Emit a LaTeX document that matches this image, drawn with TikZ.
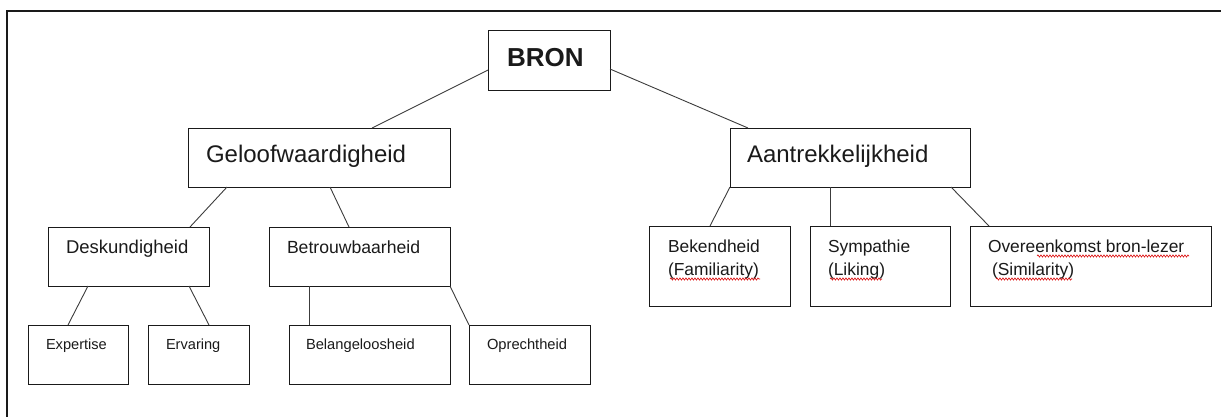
\documentclass[tikz,border=0pt]{standalone}
\usepackage{fontspec}
\setmainfont{Liberation Sans}
\usetikzlibrary{decorations.pathmorphing}
\definecolor{ink}{HTML}{1A1A1A}
\newcommand{\fs}[1]{\fontsize{#1pt}{1.27\dimexpr#1pt\relax}\selectfont}
\tikzset{
  box/.style={draw=ink, line width=0.9pt, rectangle, inner sep=0pt, outer sep=0pt},
  txt/.style={anchor=base west, inner sep=0pt, outer sep=0pt, text=ink, align=left},
  link/.style={draw=ink!85, line width=0.9pt},
  squig/.style={draw=red!85!black, line width=0.6pt, decorate, decoration={snake, amplitude=1.1pt, segment length=3pt}},
  frame/.style={draw=ink, line width=2.6pt}
}
% \bx{name}{x1}{y1}{x2}{y2}
\newcommand{\bx}[5]{\node[box, minimum width={#4-#2}, minimum height={#5-#3}] (#1) at ({(#2+#4)/2},{(#3+#5)/2}) {};}
\begin{document}
\begin{tikzpicture}[x=1pt, y=-1pt]
\useasboundingbox (0,0) rectangle (1221,416);
\draw[frame] (7,420) -- (7,11) -- (1225,11);

% boxes
\bx{bron}{488}{30}{610}{90}
\bx{geloof}{188}{128}{450}{187}
\bx{aantr}{730}{128}{970}{187}
\bx{desk}{48}{227}{209}{286}
\bx{betr}{269}{227}{450}{286}
\bx{exp}{28}{325}{128}{384}
\bx{erv}{148}{325}{249}{384}
\bx{bel}{289}{325}{450}{384}
\bx{opr}{469}{325}{590}{384}
\bx{bek}{649}{226}{790}{306}
\bx{sym}{810}{226}{950}{306}
\bx{ove}{970}{226}{1211}{306}

% texts
\node[txt, font=\fs{26}\bfseries] (tbron) at (507,66) {BRON};
\node[txt, font=\fs{24}] (tgeloof) at (206,162) {Geloofwaardigheid};
\node[txt, font=\fs{24}] (taantr) at (747,162) {Aantrekkelijkheid};
\node[txt, font=\fs{18.5}] (tdesk) at (66,253) {Deskundigheid};
\node[txt, font=\fs{17.6}] (tbetr) at (287,253) {Betrouwbaarheid};
\node[txt, font=\fs{14.6}] (texp) at (46,349) {Expertise};
\node[txt, font=\fs{14.6}] (terv) at (166,349) {Ervaring};
\node[txt, font=\fs{14.7}] (tbel) at (306,349) {Belangeloosheid};
\node[txt, font=\fs{14.7}] (topr) at (487,349) {Oprechtheid};
\node[txt, font=\fs{17.4}] (tbek) at (668,275) {Bekendheid\\(Familiarity)};
\node[txt, font=\fs{17.4}] (tsym) at (828,275) {Sympathie\\(Liking)};
\node[txt, font=\fs{17.4}] (tove) at (988,275) {Overeenkomst bron-lezer\\\hspace{4pt}(Similarity)};

% connectors
\draw[link] ([yshift=-10pt]bron.west) -- ([xshift=184pt]geloof.north west);
\draw[link] ([yshift=-9pt]bron.east) -- ([xshift=18pt]aantr.north west);
\draw[link] ([xshift=39pt]geloof.south west) -- ([xshift=142pt]desk.north west);
\draw[link] ([xshift=142pt]geloof.south west) -- ([xshift=80pt]betr.north west);
\draw[link] ([xshift=40pt]desk.south west) -- ([xshift=40pt]exp.north west);
\draw[link] ([xshift=141pt]desk.south west) -- ([xshift=61pt]erv.north west);
\draw[link] ([xshift=40pt]betr.south west) -- ([xshift=20pt]bel.north west);
\draw[link] (betr.south east) -- (opr.north west);
\draw[link] (aantr.south west) -- ([xshift=61pt]bek.north west);
\draw[link] ([xshift=100pt]aantr.south west) -- ([xshift=20pt]sym.north west);
\draw[link] ([xshift=-19pt]aantr.south east) -- ([xshift=19pt]ove.north west);

% spell-check squiggles
\draw[squig] (670,279) -- (760,279);
\draw[squig] (830,279) -- (882,279);
\draw[squig] (1037,256) -- (1189,256);
\draw[squig] (996,279) -- (1072,279);
\end{tikzpicture}
\end{document}
